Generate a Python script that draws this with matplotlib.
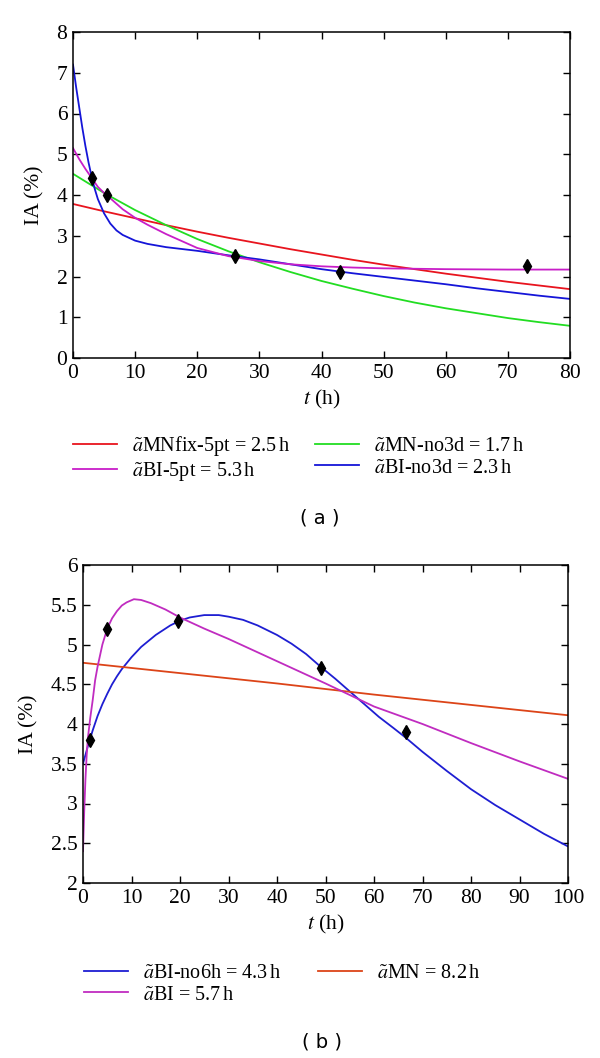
import matplotlib
matplotlib.use("Agg")
import matplotlib.pyplot as plt

# fonts: serif text, STIX for the math bits (tilde a, italic t)
plt.rcParams['font.family'] = ['Liberation Serif', 'DejaVu Serif']
plt.rcParams['mathtext.fontset'] = 'stix'

# ---------------- panel (a) data ----------------
a_red_t = [0, 5, 10, 15, 20, 25, 30, 35, 40, 45, 50, 55, 60, 65, 70, 75, 80]
a_red_v = [3.78, 3.60, 3.43, 3.26, 3.10, 2.95, 2.81, 2.67, 2.54, 2.41, 2.29, 2.18, 2.07, 1.97, 1.87, 1.78, 1.69]

a_green_t = [0, 5, 10, 15, 20, 25, 30, 35, 40, 45, 50, 55, 60, 65, 70, 75, 80]
a_green_v = [4.52, 4.05, 3.63, 3.26, 2.92, 2.62, 2.35, 2.11, 1.89, 1.70, 1.52, 1.36, 1.22, 1.10, 0.98, 0.88, 0.79]

a_mag_t = [0, 1, 2, 3, 4, 5, 6, 8, 10, 12, 15, 20, 25, 30, 35, 40, 45, 50, 60, 70, 80]
a_mag_v = [5.15, 4.88, 4.64, 4.42, 4.20, 4.05, 3.92, 3.65, 3.44, 3.27, 3.04, 2.70, 2.50, 2.38, 2.30, 2.25, 2.22, 2.20, 2.18, 2.17, 2.17]

a_blue_t = [0, 0.5, 1, 1.5, 2, 2.5, 3, 3.5, 4, 5, 6, 7, 8, 10, 12, 15, 20, 25, 30, 35, 40, 45, 50, 55, 60, 65, 70, 75, 80]
a_blue_v = [7.2, 6.65, 6.15, 5.65, 5.2, 4.8, 4.45, 4.15, 3.9, 3.55, 3.30, 3.13, 3.02, 2.88, 2.80, 2.72, 2.63, 2.52, 2.42, 2.30,
            2.18, 2.08, 1.99, 1.90, 1.81, 1.71, 1.62, 1.53, 1.45]

a_pts_t = [3, 5.5, 26, 43, 73]
a_pts_v = [4.42, 4.0, 2.5, 2.1, 2.25]

a_labels = [r'$\tilde{a}$MNfix-5pt = 2.5$\,$h', r'$\tilde{a}$BI-5pt = 5.3$\,$h',
            r'$\tilde{a}$MN-no3d = 1.7$\,$h', r'$\tilde{a}$BI-no3d = 2.3$\,$h']

# ---------------- panel (b) data ----------------
b_red_t = [0, 20, 40, 60, 80, 100]
b_red_v = [4.77, 4.64, 4.51, 4.37, 4.24, 4.11]

b_mag_t = [0, 0.25, 0.5, 0.75, 1, 1.5, 2, 2.5, 3, 4, 5, 6, 7, 8, 9, 10.5, 12, 14, 17, 20, 25, 30, 40, 50, 60, 70, 80, 90, 100]
b_mag_v = [2.4, 2.9, 3.3, 3.6, 3.82, 4.08, 4.3, 4.55, 4.72, 5.0, 5.2, 5.33, 5.42, 5.49, 5.53, 5.57, 5.56, 5.52, 5.44, 5.34,
           5.20, 5.07, 4.79, 4.51, 4.22, 4.00, 3.76, 3.53, 3.31]

b_blue_t = [0, 1, 2, 3, 4, 5, 6, 7, 8, 10, 12, 15, 18, 20, 22, 25, 28, 30, 33, 36, 40, 43, 46, 49, 52, 55, 58, 61, 64,
            66.5, 70, 75, 80, 85, 90, 95, 100]
b_blue_v = [3.5, 3.72, 3.92, 4.1, 4.25, 4.38, 4.5, 4.6, 4.69, 4.84, 4.97, 5.12, 5.24, 5.30, 5.34, 5.37, 5.37, 5.35, 5.31,
            5.24, 5.12, 5.01, 4.88, 4.72, 4.57, 4.41, 4.25, 4.09, 3.95, 3.83, 3.65, 3.41, 3.18, 2.98, 2.80, 2.62, 2.46]

b_pts_t = [1.5, 5, 19.5, 49, 66.5]
b_pts_v = [3.8, 5.2, 5.3, 4.7, 3.9]

b_labels = [r'$\tilde{a}$BI-no6h = 4.3$\,$h', r'$\tilde{a}$BI = 5.7$\,$h', r'$\tilde{a}$MN = 8.2$\,$h']

a_yticks = [0, 1, 2, 3, 4, 5, 6, 7, 8]
a_xticks = [0, 10, 20, 30, 40, 50, 60, 70, 80]
b_yticks = [2, 2.5, 3, 3.5, 4, 4.5, 5, 5.5, 6]
b_xticks = [0, 10, 20, 30, 40, 50, 60, 70, 80, 90, 100]

W, H = 600, 1058
fig = plt.figure(figsize=(W / 100, H / 100), dpi=100)


def px_axes(l, t, r, b):
    return fig.add_axes([l / W, 1 - b / H, (r - l) / W, (b - t) / H])


def style(ax, xt, yt):
    ax.set_xticks(xt)
    ax.set_yticks(yt)
    ax.set_xticklabels(['%g' % v for v in xt])
    ax.set_yticklabels(['%g' % v for v in yt])
    ax.tick_params(direction='in', top=True, right=True, length=5, width=1, labelsize=15.5, pad=4)
    for s in ax.spines.values():
        s.set_linewidth(1.1)
    ax.set_xlabel(r'$t$ (h)', fontsize=15.5, labelpad=4)
    ax.set_ylabel('IA (%)', fontsize=15.5, labelpad=9)


lw = 1.3

# ---- (a) ----
ax1 = px_axes(73, 32, 570, 358)
h1, = ax1.plot(a_red_t, a_red_v, color='#e8141e', lw=lw)
h3, = ax1.plot(a_green_t, a_green_v, color='#22dd22', lw=lw)
h4, = ax1.plot(a_blue_t, a_blue_v, color='#1515d8', lw=lw)
h2, = ax1.plot(a_mag_t, a_mag_v, color='#c81ec8', lw=lw)
ax1.plot(a_pts_t, a_pts_v, linestyle='None', marker='d', color='black', markersize=7)
ax1.set_xlim(0, 80)
ax1.set_ylim(0, 8)
style(ax1, a_xticks, a_yticks)

fig.legend([h1, h2, h3, h4], a_labels, ncol=2, loc='center left',
           bbox_to_anchor=(73 / W, 1 - 458.5 / H), frameon=False, fontsize=14.5,
           handlelength=2.2, handletextpad=0.75, columnspacing=1.2, labelspacing=0.14,
           borderpad=0, borderaxespad=0)
fig.text(320 / W, 1 - 518 / H, '( a )', ha='center', va='center', fontsize=14, family='DejaVu Sans')

# ---- (b) ----
ax2 = px_axes(83, 565, 568, 883)
g1, = ax2.plot(b_blue_t, b_blue_v, color='#1e1ed2', lw=lw)
g3, = ax2.plot(b_red_t, b_red_v, color='#dc4418', lw=lw)
g2, = ax2.plot(b_mag_t, b_mag_v, color='#c02cc0', lw=lw)
ax2.plot(b_pts_t, b_pts_v, linestyle='None', marker='d', color='black', markersize=7)
ax2.set_xlim(0, 100)
ax2.set_ylim(2, 6)
style(ax2, b_xticks, b_yticks)

fig.legend([g1, g2, g3], b_labels, ncol=2, loc='center left',
           bbox_to_anchor=(84 / W, 1 - 984 / H), frameon=False, fontsize=14.5,
           handlelength=2.2, handletextpad=0.75, columnspacing=1.8, labelspacing=0.14,
           borderpad=0, borderaxespad=0)
fig.text(322 / W, 1 - 1042 / H, '( b )', ha='center', va='center', fontsize=14, family='DejaVu Sans')

fig.savefig('out.png', dpi=100)
